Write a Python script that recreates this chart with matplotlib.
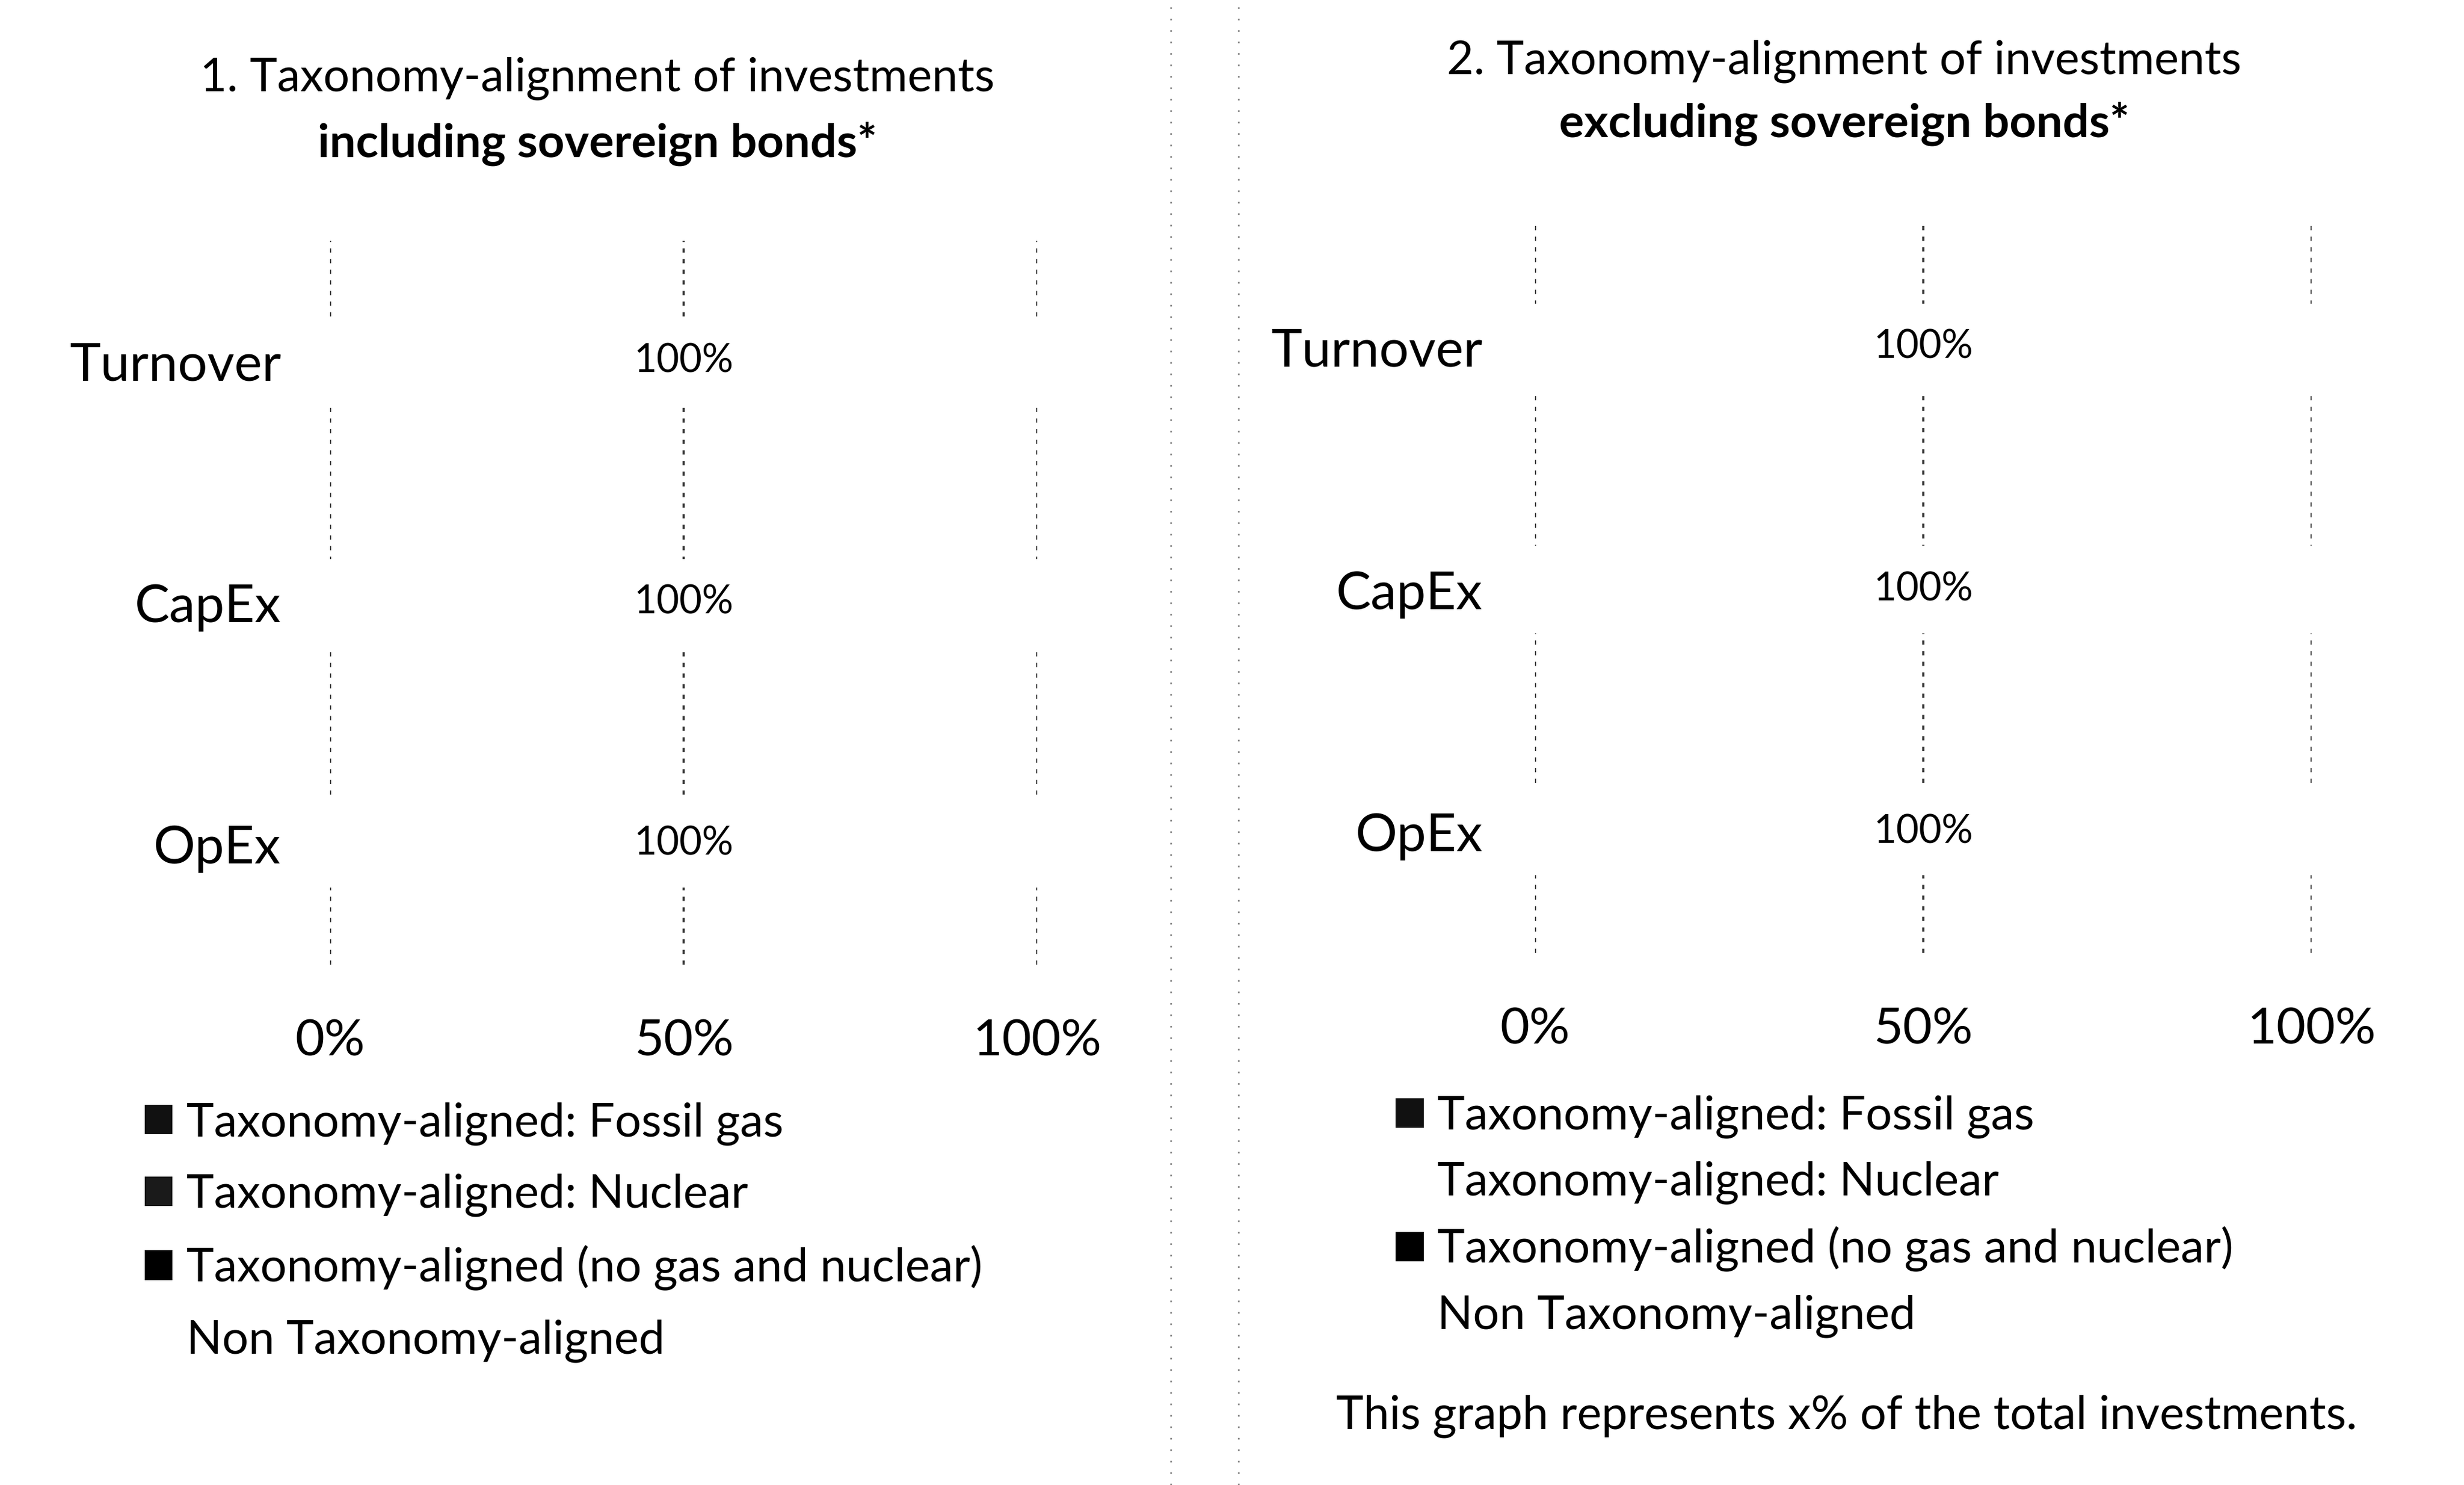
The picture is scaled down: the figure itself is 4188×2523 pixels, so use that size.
import matplotlib
matplotlib.use("Agg")
import matplotlib.pyplot as plt
import numpy as np

plt.rcParams['font.family'] = ['Lato', 'DejaVu Sans']

categories = ['Turnover', 'CapEx', 'OpEx']
series_names = ['Taxonomy-aligned: Fossil gas',
                'Taxonomy-aligned: Nuclear',
                'Taxonomy-aligned (no gas and nuclear)',
                'Non Taxonomy-aligned']
# values in % for each panel (incl. / excl. sovereign bonds)
fossil_gas = [0, 0, 0]
nuclear = [0, 0, 0]
aligned_other = [0, 0, 0]
non_aligned = [100, 100, 100]
x_ticks = [0, 50, 100]
x_ticklabels = ['0%', '50%', '100%']

panel1_title = ['1. Taxonomy-alignment of investments', 'including sovereign bonds*']
panel2_title = ['2. Taxonomy-alignment of investments', 'excluding sovereign bonds*']
footnote = 'This graph represents x% of the total investments.'

# scanned doc: legend swatches come out black, nuclear swatch lost in panel 2
colors1 = ['#111111', '#1a1a1a', '#000000', 'white']
colors2 = ['#111111', 'white', '#000000', 'white']

fig = plt.figure(figsize=(20.94, 12.615), dpi=200)
fig.patch.set_facecolor('white')

ax1 = fig.add_axes([0.1340, 0.3504, 0.2870, 0.4875])
ax2 = fig.add_axes([0.6230, 0.3583, 0.3152, 0.4895])


def draw_panel(ax, colors, ypad):
    y = np.arange(len(categories))
    left = np.zeros(len(categories))
    conts = []
    for name, vals, c in zip(series_names,
                             [fossil_gas, nuclear, aligned_other, non_aligned], colors):
        cont = ax.barh(y, vals, left=left, height=0.36, color=c, label=name, zorder=3)
        conts.append(cont)
        left = left + np.array(vals)
    ax.bar_label(conts[-1], labels=[f'{v}%' for v in non_aligned],
                 label_type='center', fontsize=24, zorder=4)
    ax.set_xlim(0, 100)
    ax.set_ylim(len(categories) - 0.5, -0.5)
    ax.set_yticks(y)
    ax.set_yticklabels(categories, fontsize=32)
    ax.set_xticks(x_ticks)
    ax.set_xticklabels(x_ticklabels, fontsize=31)
    ax.tick_params(axis='y', length=0, pad=ypad)
    ax.tick_params(axis='x', length=0, pad=33)
    for s in ax.spines.values():
        s.set_visible(False)
    ax.grid(axis='x', color='#333333', linestyle=(0, (2, 3)), linewidth=1.3, zorder=1)
    ax.set_axisbelow(True)
    return conts


h1 = draw_panel(ax1, colors1, 30)
h2 = draw_panel(ax2, colors2, 32)

fig.legend(handles=h1, labels=series_names, loc='upper left',
           bbox_to_anchor=(0.0587, 0.258), bbox_transform=fig.transFigure,
           frameon=False, fontsize=28.5, handlelength=0.6, handleheight=0.6,
           handletextpad=0.3, labelspacing=0.61, borderpad=0, borderaxespad=0)
fig.legend(handles=h2, labels=series_names, loc='upper left',
           bbox_to_anchor=(0.5664, 0.2625), bbox_transform=fig.transFigure,
           frameon=False, fontsize=28.5, handlelength=0.6, handleheight=0.6,
           handletextpad=0.3, labelspacing=0.48, borderpad=0, borderaxespad=0)

fig.text(0.2424, 0.947, panel1_title[0], ha='center', va='center', fontsize=28.4)
fig.text(0.2424, 0.903, panel1_title[1], ha='center', va='center', fontsize=28.6, fontweight='bold')
fig.text(0.7484, 0.9588, panel2_title[0], ha='center', va='center', fontsize=28.4)
fig.text(0.7484, 0.9165, panel2_title[1], ha='center', va='center', fontsize=28.6, fontweight='bold')
fig.text(0.7495, 0.0462, footnote, ha='center', va='center', fontsize=28.4)

# dotted page separators from the scan
for xf in [0.4751, 0.5026]:
    fig.add_artist(plt.Line2D([xf, xf], [0.0, 1.0], transform=fig.transFigure,
                              color='#888888', linestyle=(0, (1, 6)), linewidth=1))

fig.savefig('out.png', dpi=200, facecolor='white')
